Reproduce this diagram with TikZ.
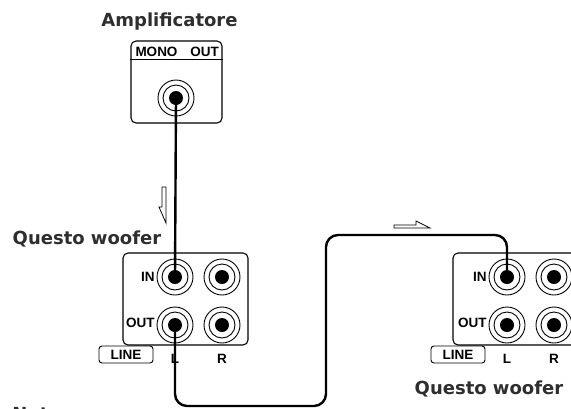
\documentclass[tikz,border=0pt]{standalone}
\usepackage{fontspec}
\newfontfamily\headfont{DejaVu Sans}
\newfontfamily\tagfont{Liberation Sans}
\tikzset{
every picture/.style={line width=1pt},
jack/.style={draw, circle, minimum size=36pt, inner sep=0pt, line width=0.9pt,
  path picture={\draw[line width=0.9pt] (path picture bounding box.center) circle (13pt);
    \fill (path picture bounding box.center) circle (7pt);}},
panel/.style={draw, rounded corners=5pt, line width=1.1pt, inner sep=0pt},
linebox/.style={draw, rounded corners=3pt, line width=0.9pt, minimum width=54pt, minimum height=17pt, inner sep=0pt},
heading/.style={font=\headfont\bfseries\fontsize{18}{18}\selectfont, text=black!82, inner sep=0pt, anchor=base},
tag/.style={font=\tagfont\bfseries\fontsize{13.5}{13.5}\selectfont, inner sep=0pt, anchor=base},
cable/.style={line width=2.4pt, rounded corners=12pt},
flow/.style={line width=0.8pt, fill=white}
}

\begin{document}
\begin{tikzpicture}[x=1pt, y=-1pt]
    \useasboundingbox (0,0) rectangle (571,408);
    % amplifier
    \node[heading] (amptitle) at (169.5,26.7) {Amplificatore};
    \node[panel, minimum width=91pt, minimum height=82pt] (amp) at (176.5,82) {};
    \draw[line width=1.1pt] (amp.west |- 0,59.3) -- (amp.east |- 0,59.3);
    \node[tag] (mono) at (156.5,56.7) {MONO};
    \node[tag] (monoout) at (204.5,56.7) {OUT};
    \node[jack] (ampjack) at (176,98) {};
    % the two woofers
    \node[panel, minimum width=125pt, minimum height=92pt] (left) at (185.5,299) {};
    \node[panel, minimum width=125pt, minimum height=92pt] (right) at (515.5,299) {};
    \foreach \side/\x in {left/175, right/507} {
      \node[jack] (\side-in-L) at (\x,277) {};
      \node[jack] (\side-in-R) at (\x+47,277) {};
      \node[jack] (\side-out-L) at (\x,325) {};
      \node[jack] (\side-out-R) at (\x+47,325) {};
      \node[tag, anchor=base east] (\side-inlabel) at (\x-20,281.5) {IN};
      \node[tag, anchor=base east] (\side-outlabel) at (\x-20,327.5) {OUT};
      \node[tag] (\side-L) at (\x,363) {L};
      \node[tag] (\side-R) at (\x+47,363) {R};
      \node[linebox] (\side-line) at (\x-49,354.5) {};
      \node[tag] at (\side-line.center) [anchor=center] {LINE};
    }
    \node[heading] (lefttitle) at (87,244) {Questo woofer};
    \node[heading] (righttitle) at (489,394) {Questo woofer};
    \node[heading, anchor=base west] (nota) at (12,420) {Nota};
    % cables
    \coordinate (low) at (326,406);
    \coordinate (high) at (326,235);
    \draw[cable] (ampjack.center) -- (left-in-L.center);
    \draw[cable] (left-out-L.center) |- (low) -- (high) -| (right-in-L.center);
    % signal direction
    \draw[flow] (162,187) -- (166,187) -- (166,223) -- (159,207) -- (162,207) -- cycle;
    \draw[flow] (394,225) -- (416,225) -- (416,221) -- (430,228) -- (394,228) -- cycle;
  \end{tikzpicture}
\end{document}
